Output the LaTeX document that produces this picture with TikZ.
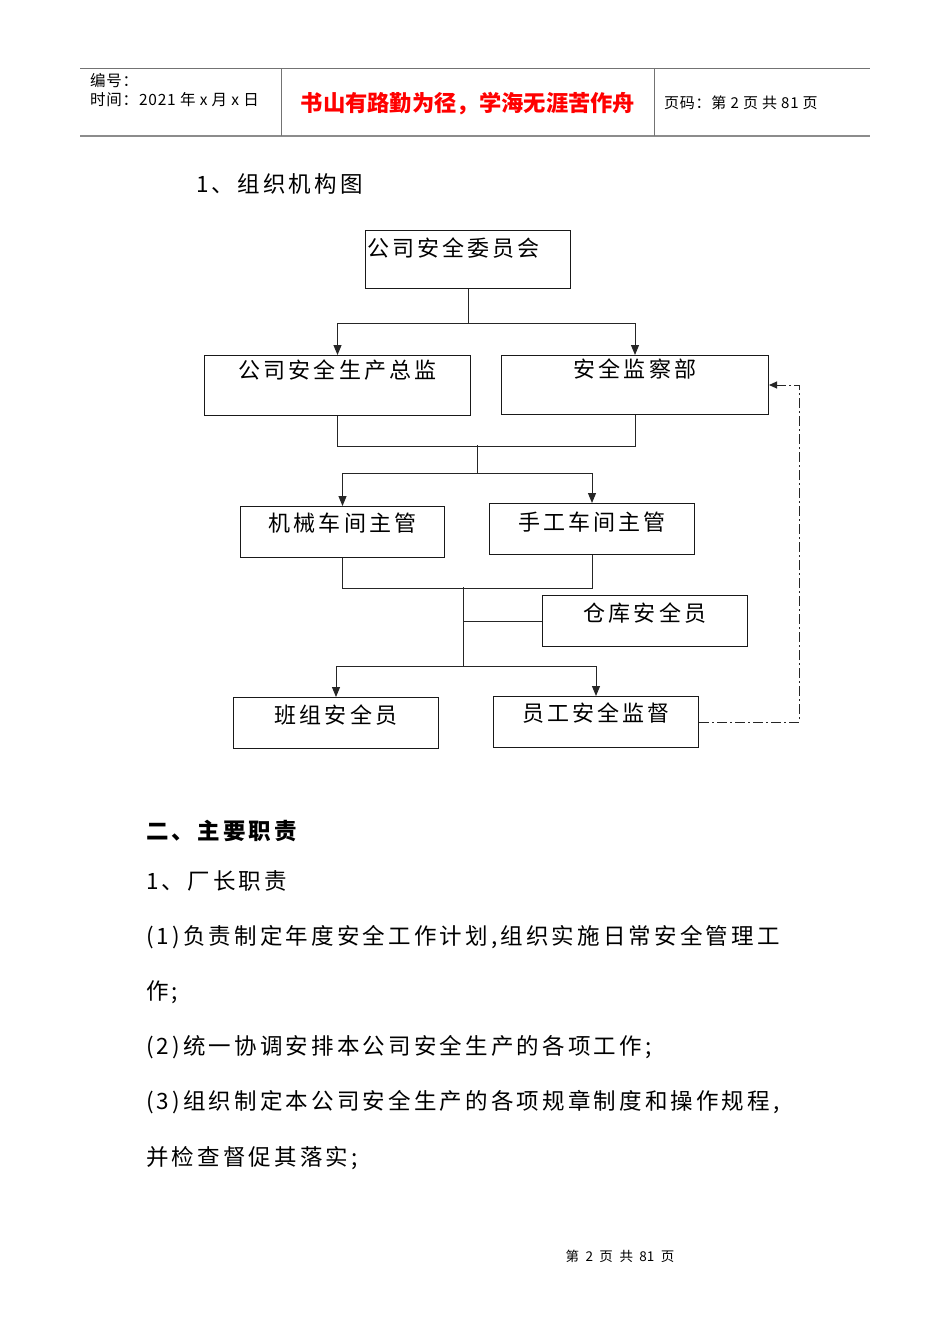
\documentclass[tikz,border=0pt]{standalone}
\usepackage{fontspec}
\setmainfont{Noto Sans CJK SC}
\newfontfamily\cjkwide[LetterSpace=14]{Noto Sans CJK SC}
\newfontfamily\cjkhead[LetterSpace=5]{Noto Sans CJK SC}
\newcommand\footgap{\hspace{6.5pt}}
\usetikzlibrary{arrows.meta,calc}

\begin{document}
\begin{tikzpicture}[x=1pt,y=-1pt,
		unit/.style={draw=black!90,line width=1pt,inner sep=0pt,anchor=north west,font=\cjkwide\fontsize{22}{26}\selectfont},
		link/.style={draw=black!85,line width=1pt},
		tip/.style={-{Triangle[length=10pt,width=8pt]}},
		para/.style={anchor=base west,inner sep=0pt,font=\cjkwide\fontsize{22.5}{26}\selectfont}]

			% The page itself, 950 x 1344, white
			\useasboundingbox[fill=white] (0,0) rectangle (950,1344);

			% The header of the page: two rules and two separators, with the three fields in between
			\draw[black!55,line width=0.8pt] (80,68) -- (870,68);
			\draw[black!45,line width=1.8pt] (80,136) -- (870,136);
			\draw[black!55,line width=0.8pt] (281,68) -- (281,136) (654,68) -- (654,136);
			\node[anchor=base west,inner sep=0pt,font=\cjkhead\fontsize{15.5}{17}\selectfont] (bianhao) at (90,86) {编号：};
			\node[anchor=base west,inner sep=0pt,font=\cjkhead\fontsize{15.5}{17}\selectfont] (shijian) at (90,105) {时间：2021 年 x 月 x 日};
			\node[anchor=base,inner sep=0pt,text=red,font=\bfseries\fontsize{22.3}{25}\selectfont] (motto) at (468,111) {书山有路勤为径，学海无涯苦作舟};
			\node[anchor=base west,inner sep=0pt,font=\cjkhead\fontsize{15}{17}\selectfont] (yema) at (664,108) {页码：第 2 页 共 81 页};

			% Title of the chart
			\node[para] (title) at (196,192) {1、组织机构图};

			% The boxes of the chart, top to bottom
			\node[unit,minimum width=205pt,text width=201pt,inner xsep=2pt,align=left,text height=26pt,text depth=32pt] (weiyuanhui) at (365,230) {公司安全委员会};
			\node[unit,minimum width=266pt,text height=23pt,text depth=37pt] (zongjian) at (204,355) {公司安全生产总监};
			\node[unit,minimum width=267pt,text height=22pt,text depth=37pt] (jianchabu) at (501,355) {安全监察部};
			\node[unit,minimum width=204pt,text height=25pt,text depth=26pt] (jixie) at (240,506) {机械车间主管};
			\node[unit,minimum width=205pt,text height=27pt,text depth=24pt] (shougong) at (489,503) {手工车间主管};
			\node[unit,minimum width=205pt,text height=26pt,text depth=25pt] (cangku) at (542,595) {仓库安全员};
			\node[unit,minimum width=205pt,text height=26pt,text depth=25pt] (banzu) at (233,697) {班组安全员};
			\node[unit,minimum width=205pt,text height=25pt,text depth=26pt] (jiandu) at (493,696) {员工安全监督};

			% From the committee down to the two boxes of the second row
			\coordinate (fork1) at ($(weiyuanhui.south)+(0,34)$);
			\draw[link] (weiyuanhui.south) -- (fork1);
			\draw[link,tip] (fork1) -| (zongjian.north);
			\draw[link,tip] (fork1) -| (jianchabu.north);

			% The second row joins, then splits to the two workshops
			\draw[link] (zongjian.south) -- ++(0,30) -| (jianchabu.south);
			\coordinate (fork2) at (477,445);
			\coordinate (fork3) at (477,473);
			\draw[link] (fork2) -- (fork3);
			\draw[link,tip] (fork3) -| (jixie.north);
			\draw[link,tip] (fork3) -| (shougong.north);

			% The workshops join, with the store keeper on the side, then split to the bottom row
			\draw[link] (jixie.south) -- ++(0,30) -| (shougong.south);
			\coordinate (fork4) at (463,587);
			\coordinate (fork5) at (463,666);
			\draw[link] (fork4) -- (fork5);
			\draw[link] (fork4 |- cangku.west) -- (cangku.west);
			\draw[link,tip] (fork5) -| (banzu.north);
			\draw[link,tip] (fork5) -| (jiandu.north);

			% The dash-dotted return line, back up to the inspection department
			\draw[link,dash pattern=on 10pt off 3pt on 2pt off 3pt,-{Triangle[length=8pt,width=7pt]}] (jiandu.east) -- ++(100,0) |- (jianchabu.east);

			% The text below the chart
			\node[para,font=\cjkwide\bfseries\fontsize{22.5}{26}\selectfont] (zhize) at (146,839) {二、主要职责};
			\node[para] (changzhang) at (146,889) {1、厂长职责};
			\node[para] (item1) at (146,944) {(1)负责制定年度安全工作计划,组织实施日常安全管理工};
			\node[para] (item1b) at (146,999) {作;};
			\node[para] (item2) at (146,1054) {(2)统一协调安排本公司安全生产的各项工作;};
			\node[para] (item3) at (146,1109) {(3)组织制定本公司安全生产的各项规章制度和操作规程,};
			\node[para] (item3b) at (146,1165) {并检查督促其落实;};

			% Footer
			\node[anchor=base,inner sep=0pt,font=\fontsize{13.5}{15}\selectfont] (footer) at (620,1261) {第\footgap 2\footgap 页\footgap 共\footgap 81\footgap 页};
\end{tikzpicture}
\end{document}
